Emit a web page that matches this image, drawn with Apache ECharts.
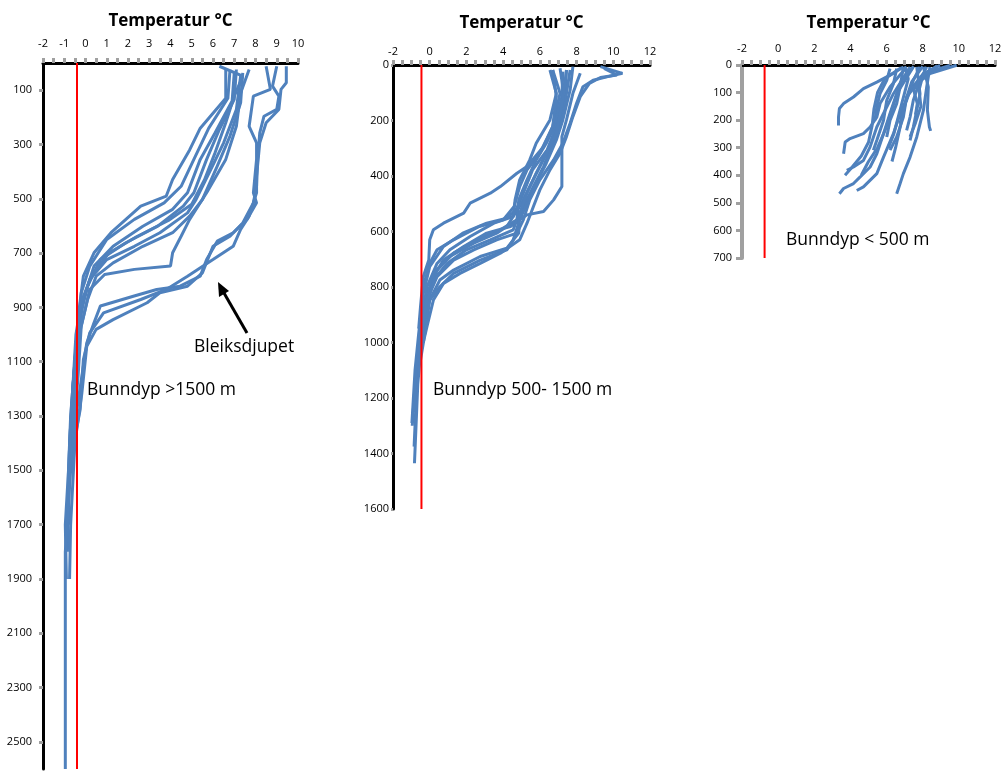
<!DOCTYPE html>
<html>
<head>
<meta charset="utf-8">
<script src="https://cdn.jsdelivr.net/npm/echarts@6/dist/echarts.min.js"></script>
<style>
  html, body { margin: 0; padding: 0; background: #fff; }
  #main { width: 1005px; height: 771px; }
</style>
</head>
<body>
<div id="main"></div>
<script>
// profiler: [temperatur, dyp]
// panel 1 - bunndyp > 1500 m
const p1_A1 = [[6.6,24],[6.6,130],[5.4,240],[4.9,320],[4.1,429],[3.8,490],[2.6,527],[1.2,625],[0.4,699],[-0.1,785],[-0.3,908],[-0.5,1092],[-0.55,1300]];
const p1_A2 = [[6.8,24],[6.7,130],[5.8,240],[5.1,355],[4.5,454],[3.7,515],[2.3,576],[1.0,650],[0.2,748],[-0.2,846],[-0.4,1031],[-0.6,1200],[-0.7,1500]];
const p1_A3 = [[7.0,36],[6.9,140],[6.1,257],[5.4,355],[4.8,478],[4.1,539],[2.7,601],[1.3,675],[0.4,748],[-0.1,871],[-0.35,1000],[-0.55,1150],[-0.75,1400],[-0.8,1700]];
const p1_A4 = [[7.1,24],[7.0,134],[6.3,245],[5.7,355],[5.1,478],[4.6,527],[3.4,601],[1.9,662],[0.7,724],[0.1,822],[-0.3,950],[-0.5,1100],[-0.7,1300],[-0.8,1500],[-0.85,1800]];
const p1_A5 = [[7.3,48],[7.1,171],[6.5,294],[5.9,392],[5.2,503],[4.8,552],[3.5,625],[2.3,675],[1.0,724],[0.2,797],[-0.2,900],[-0.45,1050],[-0.65,1250],[-0.8,1500],[-0.95,1700],[-0.9,1900]];
const p1_A6 = [[7.4,36],[7.3,147],[6.8,269],[6.2,380],[5.5,503],[4.9,564],[4.1,625],[2.7,675],[1.3,736],[0.5,785],[0.1,871],[-0.3,1000],[-0.5,1150],[-0.6,1350]];
const p1_A7 = [[7.7,24],[7.3,110],[7.1,233],[6.6,355],[5.7,478],[4.9,576],[4.5,638],[4.1,699],[4.0,748],[2.3,760],[0.9,779],[0.2,834],[-0.2,969],[-0.35,1153],[-0.5,1300],[-0.7,1500],[-0.95,1800],[-0.95,2600]];
const p1_A8 = [[6.3,12],[7.4,48],[7.0,122],[6.6,220],[6.1,330],[5.6,430],[5.0,520],[3.9,580],[2.4,640],[1.1,700],[0.3,780],[-0.2,880],[-0.45,1000],[-0.6,1200]];
const p1_B1 = [[8.5,12],[8.7,97],[7.9,122],[7.7,233],[8.05,294],[8.05,355],[7.9,478],[8.05,515],[7.6,576],[6.95,625],[6.2,656],[5.7,724],[5.4,785],[4.45,822],[3.35,834],[2.25,859],[0.7,895],[0.4,957],[0.06,1031],[-0.17,1153],[-0.45,1300],[-0.6,1500]];
const p1_B2 = [[9.0,12],[8.8,85],[9.1,122],[9.0,171],[8.4,196],[8.2,257],[8.1,355],[8.05,454],[7.9,515],[7.4,589],[6.8,638],[6.0,675],[5.5,773],[4.8,822],[3.5,846],[2.9,883],[1.3,945],[0.5,981],[0.06,1043],[-0.17,1215],[-0.5,1400],[-0.7,1700],[-0.75,1900]];
const p1_B3 = [[9.45,12],[9.45,73],[9.2,97],[9.1,171],[8.5,220],[8.2,294],[8.05,417],[8.05,478],[7.7,564],[7.3,613],[6.95,675],[6.0,724],[4.8,785],[3.8,834],[2.6,871],[0.85,920],[0.2,994],[-0.1,1092],[-0.25,1276],[-0.55,1400]];

// panel 2 - bunndyp 500-1500 m
const p2_M1 = [[6.7,18],[7.1,102],[6.7,222],[6.0,318],[5.3,378],[4.9,438],[4.6,510],[4.0,558],[2.7,582],[1.3,630],[0.4,666],[0.0,715],[-0.35,799],[-0.5,943],[-0.6,1050],[-0.75,1150]];
const p2_M2 = [[7.1,12],[7.3,102],[6.9,222],[6.4,306],[5.6,378],[5.1,462],[4.7,522],[4.2,552],[3.1,570],[1.8,606],[0.75,654],[0.0,727],[-0.35,823],[-0.6,967],[-0.8,1100],[-0.97,1290]];
const p2_M3 = [[7.45,18],[7.35,126],[7.1,222],[6.55,294],[6.0,366],[5.45,438],[4.9,510],[4.55,546],[3.5,570],[2.2,618],[1.1,666],[0.4,715],[-0.15,799],[-0.45,919],[-0.6,1000],[-0.85,1200],[-0.95,1300]];
const p2_M4 = [[7.65,18],[7.45,102],[7.2,198],[6.7,282],[6.2,366],[5.65,438],[5.1,510],[4.75,558],[3.85,594],[2.55,630],[1.3,678],[0.4,739],[-0.15,823],[-0.45,943],[-0.7,1150],[-0.85,1375]];
const p2_M5 = [[7.8,6],[7.65,90],[7.25,198],[6.9,270],[6.35,354],[5.8,426],[5.3,498],[4.9,558],[4.4,582],[3.1,606],[1.85,654],[0.75,703],[0.2,763],[-0.25,871],[-0.5,1003],[-0.7,1100]];
const p2_M6 = [[6.55,18],[6.9,102],[6.55,198],[5.8,282],[5.45,342],[4.9,414],[4.65,486],[4.55,546],[4.2,582],[3.65,606],[2.4,642],[1.1,690],[0.2,751],[-0.15,847],[-0.45,943],[-0.55,1050]];
const p2_M7 = [[7.25,24],[7.2,114],[6.8,222],[6.35,282],[5.8,342],[5.3,414],[4.85,486],[4.75,558],[4.55,594],[3.3,630],[2.0,666],[0.95,715],[0.2,775],[-0.15,871],[-0.45,1000],[-0.65,1150],[-0.83,1435]];
const p2_M8 = [[7.45,18],[7.25,126],[6.9,246],[6.35,318],[5.8,390],[5.3,462],[4.9,534],[4.85,606],[4.2,660],[2.75,690],[1.3,739],[0.55,775],[0.0,847],[-0.15,919],[-0.35,1003],[-0.5,1063]];
const p2_CL = [[6.7,18],[6.9,114],[6.7,222],[6.2,294],[5.3,366],[4.75,390],[3.85,438],[3.3,462],[2.2,498],[1.85,534],[0.75,570],[0.2,594],[0.0,630],[-0.05,703],[-0.35,763],[-0.5,870],[-0.6,950]];
const p2_CR = [[8.2,30],[7.8,102],[7.45,198],[7.2,258],[7.2,342],[7.2,438],[6.75,486],[6.2,528],[5.3,540],[4.9,558],[4.55,630],[4.2,666],[2.75,703],[1.3,751],[0.55,799],[0.0,847],[-0.35,943],[-0.5,1000]];
const p2_W1 = [[9.3,6],[10.5,30],[9.7,42],[8.9,55],[8.35,78],[8.0,138],[7.65,210],[7.25,282],[6.75,342],[6.0,414],[5.45,486],[5.1,558],[4.75,606],[3.65,630],[2.4,666],[1.3,703],[0.4,763],[-0.15,847],[-0.45,967],[-0.75,1100],[-0.85,1250]];
const p2_W2 = [[9.5,12],[10.2,36],[9.3,45],[8.7,66],[8.2,114],[7.8,186],[7.45,258],[7.1,318],[6.55,378],[6.0,450],[5.65,510],[5.3,570],[4.9,630],[3.85,678],[2.75,715],[1.65,751],[0.75,787],[0.2,847],[-0.15,943],[-0.35,1000]];

// panel 3 - bunndyp < 500 m
const p3_1 = [[6.93,7],[6.19,37],[5.46,62],[4.72,86],[4.17,116],[3.62,140],[3.39,158],[3.34,189],[3.34,219]];
const p3_2 = [[7.11,7],[6.19,80],[5.64,140],[5.46,189],[5.09,225],[4.72,249],[3.98,267],[3.71,279],[3.62,322]];
const p3_3 = [[7.3,7],[6.38,104],[5.83,176],[5.46,225],[5.09,297],[4.72,346],[4.17,370],[3.8,382]];
const p3_4 = [[7.48,7],[6.56,104],[6.19,176],[5.83,249],[5.46,322],[5.09,370],[4.54,406],[4.17,430],[3.62,448],[3.39,467]];
const p3_5 = [[8.4,7],[8.22,80],[8.04,164],[7.67,261],[7.3,334],[6.93,394],[6.75,430],[6.56,467]];
const p3_6 = [[8.04,7],[8.31,80],[8.26,164],[8.37,225],[8.44,239]];
const p3_7 = [[7.67,7],[7.85,104],[7.67,164],[7.48,225],[7.3,273]];
const p3_8 = [[8.96,1],[8.04,31],[7.3,92],[6.93,152],[6.75,213]];
const p3_9 = [[9.88,1],[8.4,31],[7.67,68],[7.11,116],[6.93,189],[6.56,261],[6.19,309]];
const p3_10 = [[6.93,7],[6.75,80],[6.56,140],[6.19,201],[6.01,261]];
const p3_11 = [[6.56,13],[6.38,68],[6.01,128],[5.83,201],[5.46,273],[5.27,309]];
const p3_12 = [[7.85,7],[7.48,56],[7.11,128],[6.75,176],[6.38,249],[5.83,334],[5.46,394],[4.72,442],[4.35,455]];
const p3_13 = [[8.22,7],[7.85,56],[7.48,128],[7.3,189],[7.11,237]];
const p3_14 = [[6.19,13],[6.01,56],[5.64,104],[5.46,152],[5.36,201]];
const p3_15 = [[9.5,2],[8.6,20],[7.9,45],[7.5,90],[7.7,140],[7.6,180]];
const p3_16 = [[7.0,5],[7.2,50],[7.0,100],[6.8,150],[6.6,200],[6.4,250],[6.1,300]];
const p3_17 = [[7.5,5],[6.8,60],[6.5,120],[6.2,180],[5.9,240],[5.5,300],[5.0,350],[4.6,400]];
const p3_18 = [[8.0,5],[7.4,60],[7.1,120],[6.9,180],[6.7,240],[6.5,300],[6.3,350]];
const p3_19 = [[8.8,3],[8.0,40],[7.8,90],[7.9,150],[7.6,210],[7.3,260]];
const p3_20 = [[6.8,10],[5.9,50],[5.5,100],[5.3,160],[5.2,220],[5.0,280],[4.6,330],[4.1,370],[3.7,400]];

// rød linje
const red1 = [[-0.4,0],[-0.4,2600]];
const red2 = [[-0.45,0],[-0.45,1600]];
const red3 = [[-0.75,0],[-0.75,700]];

const yTicks1 = [100,300,500,700,900,1100,1300,1500,1700,1900,2100,2300,2500];

const profiles1 = [p1_A1,p1_A2,p1_A3,p1_A4,p1_A5,p1_A6,p1_A7,p1_A8,p1_B1,p1_B2,p1_B3];
const profiles2 = [p2_M1,p2_M2,p2_M3,p2_M4,p2_M5,p2_M6,p2_M7,p2_M8,p2_CL,p2_CR,p2_W1,p2_W2];
const profiles3 = [p3_1,p3_2,p3_3,p3_4,p3_5,p3_6,p3_7,p3_8,p3_9,p3_10,p3_11,p3_12,p3_13,p3_14,p3_15,p3_16,p3_17,p3_18,p3_19,p3_20];

const FONT = '"Open Sans", sans-serif';
const BLUE = '#4f81bd';

function blueLine(data, idx) {
  return {
    type: 'line', xAxisIndex: idx, yAxisIndex: idx, data: data,
    showSymbol: false, silent: true, z: 2,
    lineStyle: { color: BLUE, width: 3 }
  };
}
function redLine(data, idx) {
  return {
    type: 'line', xAxisIndex: idx, yAxisIndex: idx, data: data,
    showSymbol: false, silent: true, z: 5,
    lineStyle: { color: '#ff0000', width: 2 }
  };
}

function xAxisCfg(idx, interval, minorSplit, labelMargin) {
  return {
    gridIndex: idx, type: 'value', position: 'top',
    min: -2, max: idx === 0 ? 10 : 12, interval: interval,
    name: 'Temperatur °C', nameLocation: 'middle', nameGap: 33, nameMoveOverlap: false,
    nameTextStyle: { fontFamily: FONT, fontWeight: 'bold', fontSize: 17, color: '#000' },
    axisLine: { show: true, onZero: false, lineStyle: { color: '#000', width: 3 } },
    axisTick: { show: true, length: 5, lineStyle: { color: '#a0a0a0', width: 3 } },
    minorTick: { show: true, splitNumber: minorSplit, length: 5, lineStyle: { color: '#a0a0a0', width: 3 } },
    axisLabel: { margin: labelMargin, fontSize: 11, color: '#000', fontFamily: FONT },
    splitLine: { show: false }
  };
}
const plain = v => String(v);

let chart = echarts.init(document.getElementById('main'));
let option = {
  animation: false,
  backgroundColor: '#fff',
  grid: [
    { left: 43, top: 63, width: 255, height: 706, outerBoundsMode: 'none' },
    { left: 393, top: 65, width: 257, height: 444, outerBoundsMode: 'none' },
    { left: 742, top: 65, width: 253, height: 193, outerBoundsMode: 'none' }
  ],
  xAxis: [
    xAxisCfg(0, 1, 2, 14),
    xAxisCfg(1, 2, 4, 8),
    xAxisCfg(2, 2, 4, 11)
  ],
  yAxis: [
    {
      gridIndex: 0, type: 'value', inverse: true, min: 0, max: 2600,
      axisLine: { show: true, onZero: false, lineStyle: { color: '#000', width: 3 } },
      axisTick: { show: true, customValues: yTicks1, length: 4, lineStyle: { color: '#a0a0a0', width: 3 } },
      axisLabel: { customValues: yTicks1, formatter: plain, margin: 11, fontSize: 11, color: '#000', fontFamily: FONT },
      splitLine: { show: false }
    },
    {
      gridIndex: 1, type: 'value', inverse: true, min: 0, max: 1600, interval: 200,
      axisLine: { show: true, onZero: false, lineStyle: { color: '#000', width: 3 } },
      axisTick: { show: true, length: 2, lineStyle: { color: '#a0a0a0', width: 3 } },
      axisLabel: { formatter: plain, margin: 4, fontSize: 11, color: '#000', fontFamily: FONT },
      splitLine: { show: false }
    },
    {
      gridIndex: 2, type: 'value', inverse: true, min: 0, max: 700, interval: 100,
      axisLine: { show: true, onZero: false, lineStyle: { color: '#a0a0a0', width: 4 } },
      axisTick: { show: true, length: 6, lineStyle: { color: '#a0a0a0', width: 3 } },
      axisLabel: { formatter: plain, margin: 10, fontSize: 11, color: '#000', fontFamily: FONT, padding: [8, 0, 0, 0] },
      splitLine: { show: false }
    }
  ],
  series: [].concat(
    profiles1.map(p => blueLine(p, 0)),
    profiles2.map(p => blueLine(p, 1)),
    profiles3.map(p => blueLine(p, 2)),
    [redLine(red1, 0), redLine(red2, 1), redLine(red3, 2)]
  ),
  graphic: [
    { type: 'text', x: 87, y: 390, style: { text: 'Bunndyp >1500 m', fontSize: 17.5, fontFamily: FONT, fill: '#000', verticalAlign: 'middle' } },
    { type: 'text', x: 433, y: 390, style: { text: 'Bunndyp 500- 1500 m', fontSize: 17.5, fontFamily: FONT, fill: '#000', verticalAlign: 'middle' } },
    { type: 'text', x: 786, y: 240, style: { text: 'Bunndyp < 500 m', fontSize: 17.5, fontFamily: FONT, fill: '#000', verticalAlign: 'middle' } },
    { type: 'text', x: 194, y: 347, style: { text: 'Bleiksdjupet', fontSize: 17.5, fontFamily: FONT, fill: '#000', verticalAlign: 'middle' } },
    { type: 'line', shape: { x1: 247, y1: 333, x2: 224, y2: 293 }, style: { stroke: '#000', lineWidth: 3 } },
    { type: 'polygon', shape: { points: [[218, 282], [229, 291], [219, 297]] }, style: { fill: '#000' } }
  ]
};
chart.setOption(option);
</script>
</body>
</html>
